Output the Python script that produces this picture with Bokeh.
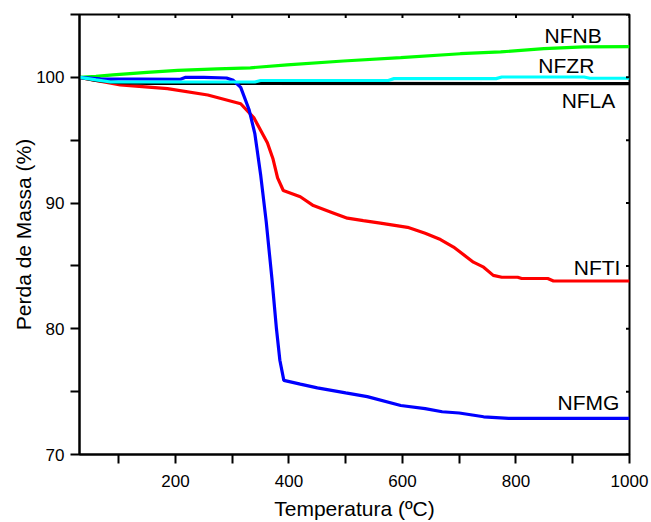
from bokeh.plotting import figure
from bokeh.models import Range1d, FixedTicker, Label
from bokeh.embed import file_html
from bokeh.resources import INLINE
import math

# NFNB (green)
t_nb = [31, 60, 90, 150, 204, 274, 332, 397, 496, 597, 702, 773, 849, 919, 1000]
v_nb = [100.0, 100.08, 100.2, 100.4, 100.55, 100.68, 100.76, 101.0, 101.3, 101.57, 101.88, 102.02, 102.28, 102.42, 102.45]

# NFLA (black)
t_la = [31, 60, 100, 150, 1000]
v_la = [100.0, 99.75, 99.58, 99.52, 99.5]

# NFZR (cyan)
t_zr = [31, 60, 86, 340, 350, 575, 585, 765, 775, 920, 930, 1000]
v_zr = [100.0, 99.8, 99.63, 99.63, 99.75, 99.75, 99.9, 99.9, 100.03, 100.03, 99.93, 99.93]

# NFTI (red)
t_ti = [31, 103, 186, 257, 315, 338, 362, 372, 380, 390, 420, 443, 479, 503, 531, 561, 609, 640, 667, 690,
        725, 743, 760, 775, 803, 810, 856, 866, 1000]
v_ti = [100.0, 99.4, 99.1, 98.6, 97.9, 96.8, 94.8, 93.5, 92.0, 91.0, 90.5, 89.8, 89.2, 88.8, 88.6, 88.4, 88.07,
        87.6, 87.1, 86.5, 85.3, 84.9, 84.25, 84.1, 84.1, 84.0, 84.0, 83.8, 83.8]

# NFMG (blue)
t_mg = [31, 68, 209, 218, 250, 290, 302, 315, 330, 340, 350, 360, 370, 378, 384, 391, 420, 450, 500, 538,
        597, 640, 670, 700, 743, 787, 1000]
v_mg = [100.0, 99.88, 99.85, 100.0, 100.0, 99.95, 99.76, 99.2, 97.4, 95.5, 92.3, 88.5, 84.0, 80.0, 77.5, 75.9,
        75.6, 75.3, 74.9, 74.6, 73.9, 73.65, 73.4, 73.3, 73.0, 72.88, 72.88]

x_ticks = [200, 400, 600, 800, 1000]
x_minor = [100, 300, 500, 700, 900]
y_ticks = [70, 80, 90, 100]
y_minor = [75, 85, 95, 105]
x_start, x_end = 31, 1000
y_start, y_end = 70, 105

label_texts = ["NFNB", "NFZR", "NFLA", "NFTI", "NFMG"]
label_x = [951, 938, 975, 984, 982]
label_y = [103.3, 100.95, 98.17, 84.9, 74.12]

FONT = "Liberation Sans"

p = figure(width=651, height=522, output_backend="svg", toolbar_location=None,
           x_range=Range1d(x_start, x_end), y_range=Range1d(y_start, y_end),
           min_border_left=79, min_border_right=22, min_border_top=14, min_border_bottom=68)
p.grid.visible = False
p.outline_line_color = "black"
p.outline_line_width = 2
p.background_fill_color = "white"
p.border_fill_color = "white"

p.line(t_ti, v_ti, line_color="#ff0000", line_width=3.2)
p.line(t_nb, v_nb, line_color="#00ff00", line_width=3.2)
p.line(t_la, v_la, line_color="black", line_width=3.2)
p.line(t_mg, v_mg, line_color="#0000ff", line_width=3.2)
p.line(t_zr, v_zr, line_color="#00ffff", line_width=3.2)

for ax in (p.xaxis[0], p.yaxis[0]):
    ax.axis_line_width = 2
    ax.major_tick_line_width = 2
    ax.minor_tick_line_width = 2
    ax.major_tick_out = 9
    ax.major_tick_in = 0
    ax.minor_tick_out = 9
    ax.minor_tick_in = 0
    ax.major_label_text_font = FONT
    ax.major_label_text_font_size = "17px"
    ax.major_label_text_color = "black"
    ax.axis_label_text_font = FONT
    ax.axis_label_text_font_size = "21px"
    ax.axis_label_text_font_style = "normal"
    ax.axis_label_text_color = "black"

p.xaxis[0].ticker = FixedTicker(ticks=x_ticks, minor_ticks=x_minor)
p.yaxis[0].ticker = FixedTicker(ticks=y_ticks, minor_ticks=y_minor)
p.xaxis[0].axis_label = "Temperatura (ºC)"
p.yaxis[0].axis_label = "Perda de Massa (%)"
p.xaxis[0].major_label_standoff = 11
p.yaxis[0].major_label_standoff = 6
p.xaxis[0].axis_label_standoff = 7
p.yaxis[0].axis_label_standoff = -2

# small tick marks on the top and right frame edges
top_x = x_ticks + x_minor
p.scatter(top_x, [y_end] * len(top_x), marker="dash", angle=math.pi / 2, size=7,
          line_color="black", line_width=2)
right_y = y_ticks + y_minor
p.scatter([x_end] * len(right_y), right_y, marker="dash", size=7,
          line_color="black", line_width=2)

for txt, lx, ly in zip(label_texts, label_x, label_y):
    p.add_layout(Label(x=lx, y=ly, text=txt, text_align="right", text_baseline="alphabetic",
                       text_font=FONT, text_font_size="21px", text_color="black"))

open("out.html", "w").write(file_html(p, INLINE))
